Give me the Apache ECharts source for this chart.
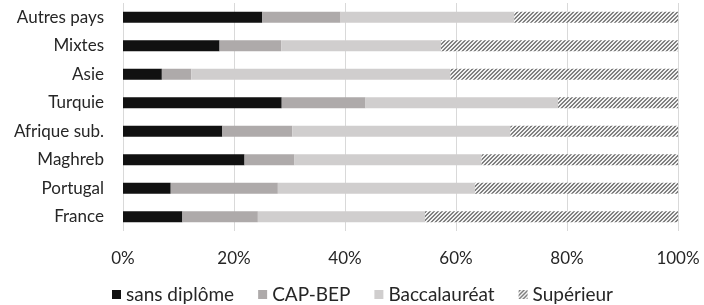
<!DOCTYPE html>
<html>
<head>
<meta charset="utf-8">
<script src="https://cdn.jsdelivr.net/npm/echarts@6/dist/echarts.min.js"></script>
<style>
  html, body { margin: 0; padding: 0; background: #fff; }
  #chart { width: 704px; height: 305px; }
</style>
</head>
<body>
<div id="chart"></div>
<script>
// catégories, du bas vers le haut
const categories = ['France', 'Portugal', 'Maghreb', 'Afrique sub.', 'Turquie', 'Asie', 'Mixtes', 'Autres pays'];
const sansDiplome = [10.7, 8.6, 21.9, 17.9, 28.6, 7.0, 17.4, 25.1];
const capBep = [13.6, 19.3, 9.0, 12.6, 15.1, 5.3, 11.1, 14.1];
const bac = [30.1, 35.5, 33.7, 39.3, 34.7, 46.7, 28.8, 31.3];
const superieur = [45.6, 36.6, 35.4, 30.2, 21.6, 41.0, 42.7, 29.5];
const xTicks = [0, 20, 40, 60, 80, 100];

// motif hachuré (diagonales montantes)
function hatch() {
  const c = document.createElement('canvas');
  c.width = 8; c.height = 8;
  const ctx = c.getContext('2d');
  ctx.fillStyle = '#f2f2f2';
  ctx.fillRect(0, 0, 8, 8);
  ctx.fillStyle = '#808080';
  for (let x = 0; x < 8; x++) {
    for (let y = 0; y < 8; y++) {
      if ((x + y) % 4 < 2) ctx.fillRect(x, y, 1, 1);
    }
  }
  return { image: c, repeat: 'repeat' };
}

const myChart = echarts.init(document.getElementById('chart'));
const font = 'Lato';
const barW = 11;

const option = {
  animation: false,
  textStyle: { fontFamily: font },
  grid: { left: 123, right: 26, top: 3, bottom: 74, containLabel: false },
  legend: {
    left: 107,
    top: 280,
    itemWidth: 9,
    itemHeight: 9,
    itemGap: 24,
    icon: 'rect',
    textStyle: { fontFamily: font, fontSize: 19, color: '#262626' },
    data: ['sans diplôme', 'CAP-BEP', 'Baccalauréat', 'Supérieur']
  },
  xAxis: {
    type: 'value',
    min: 0,
    max: 100,
    interval: 20,
    axisLine: { show: false },
    axisTick: { show: false },
    splitLine: { lineStyle: { color: '#d9d9d9', width: 1 } },
    axisLabel: {
      margin: 19,
      fontSize: 17,
      color: '#262626',
      fontFamily: font,
      formatter: v => (xTicks.includes(v) ? v + '%' : '')
    }
  },
  yAxis: {
    type: 'category',
    data: categories,
    axisLine: { show: false },
    axisTick: { show: false },
    axisLabel: { margin: 19, fontSize: 17, color: '#262626', fontFamily: font }
  },
  series: [
    { name: 'sans diplôme', type: 'bar', stack: 'total', barWidth: barW, itemStyle: { color: '#111111' }, data: sansDiplome },
    { name: 'CAP-BEP', type: 'bar', stack: 'total', barWidth: barW, itemStyle: { color: '#aeaaaa' }, data: capBep },
    { name: 'Baccalauréat', type: 'bar', stack: 'total', barWidth: barW, itemStyle: { color: '#d0cece' }, data: bac },
    { name: 'Supérieur', type: 'bar', stack: 'total', barWidth: barW, itemStyle: { color: hatch() }, data: superieur }
  ]
};
myChart.setOption(option);
</script>
</body>
</html>
